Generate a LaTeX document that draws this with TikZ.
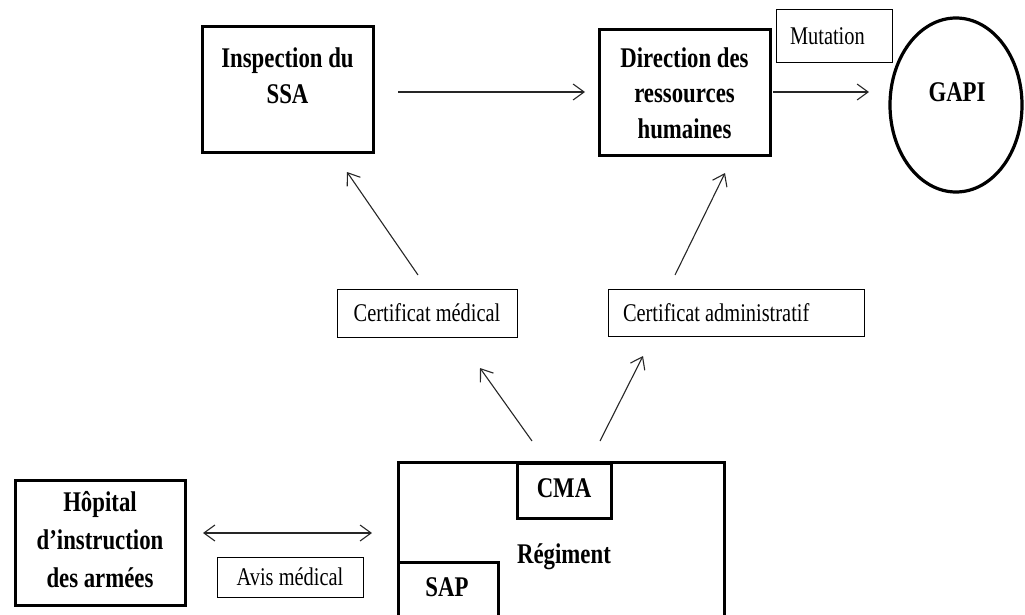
\documentclass[tikz,border=0pt]{standalone}
\usepackage{fontspec}
\setmainfont{Liberation Serif}[FakeStretch=0.8, BoldFeatures={FakeStretch=0.8}]
\usetikzlibrary{arrows.meta,calc,shapes.geometric}
\begin{document}
\begin{tikzpicture}[x=1pt,y=-1pt,
  thickbox/.style={draw, line width=3pt, inner sep=0pt, outer sep=0pt},
  thinbox/.style={draw, line width=1pt, inner sep=0pt, outer sep=0pt},
  boldtxt/.style={font=\fontsize{28.5}{35.5}\selectfont\bfseries, align=center, inner sep=0pt},
  plaintxt/.style={font=\fontsize{25.5}{28}\selectfont},
  arr/.style={line width=1.1pt, draw=black!85, -{Straight Barb[length=11pt,width=16pt,line width=1.1pt]}},
  dblarr/.style={line width=1.1pt, draw=black!85, {Straight Barb[length=11pt,width=16pt,line width=1.1pt]}-{Straight Barb[length=11pt,width=16pt,line width=1.1pt]}}
]
\useasboundingbox (0,0) rectangle (1025,615);
\clip (0,0) rectangle (1025,615);

% top row
\node[thickbox, minimum width=171, minimum height=125] (insp) at (287.5,89.5) {};
\node[boldtxt] (insptext) at (287.5,76) {Inspection du\\SSA};

\node[thickbox, minimum width=171, minimum height=125] (drh) at (684.5,92.5) {};
\node[boldtxt] (drhtext) at (684.5,93) {Direction des\\ressources\\humaines};

\node[thinbox, plaintxt, minimum height=53, inner xsep=14pt] (mut) at (834,36.5) {\makebox[88pt][l]{Mutation}};

\node[ellipse, draw, line width=3.2pt, inner sep=0pt, outer sep=0pt, minimum width=132, minimum height=174] (gapi) at (956,105) {};
\node[boldtxt] (gapitext) at (957,92.5) {GAPI};

% certificates
\node[thinbox, plaintxt, minimum width=180, minimum height=48] (cm) at (427,313) {Certificat médical};
\node[thinbox, plaintxt, minimum height=47, inner xsep=15pt] (ca) at (736,312.5) {\makebox[226pt][l]{Certificat administratif}};

% regiment
\node[thickbox, minimum width=326, minimum height=200] (reg) at (561,562) {};
\node[boldtxt] (regtext) at (564,557) {Régiment};
\node[thickbox, minimum width=94, minimum height=55] (cma) at (564,490.5) {};
\node[boldtxt] (cmatext) at (564,488) {CMA};
\node[thickbox, minimum width=100, minimum height=100] (sap) at (448,612) {};
\node[boldtxt] (saptext) at (447,587) {SAP};

% hospital
\node[thickbox, minimum width=170, minimum height=125] (hop) at (100,542.5) {};
\node[boldtxt, font=\fontsize{28.5}{38}\selectfont\bfseries] (hoptext) at (100,540) {Hôpital\\d’instruction\\des armées};
\node[thinbox, plaintxt, minimum width=146, minimum height=40] (avis) at (290,577) {Avis médical};

% connectors
\draw[arr] ($(insp.east)+(25,2.5)$) -- ($(drh.west)+(-14,-0.5)$);
\draw[arr] ($(drh.east)+(3,-0.5)$) -- ($(gapi.west)+(-21,-13)$);
\draw[arr] ($(cm.north)+(-9,-14)$) -- ($(insp.south)+(59.5,20)$);
\draw[arr] ($(ca.north)+(-61,-14)$) -- ($(drh.south)+(40.5,18)$);
\draw[arr] ($(reg.north)+(-29,-21)$) -- ($(cm.south)+(53,31)$);
\draw[arr] ($(reg.north)+(39,-21)$) -- ($(ca.south)+(-93,20)$);
\draw[dblarr] ($(hop.east)+(18,-9.5)$) -- ($(reg.west)+(-26,-29)$);
\end{tikzpicture}
\end{document}
